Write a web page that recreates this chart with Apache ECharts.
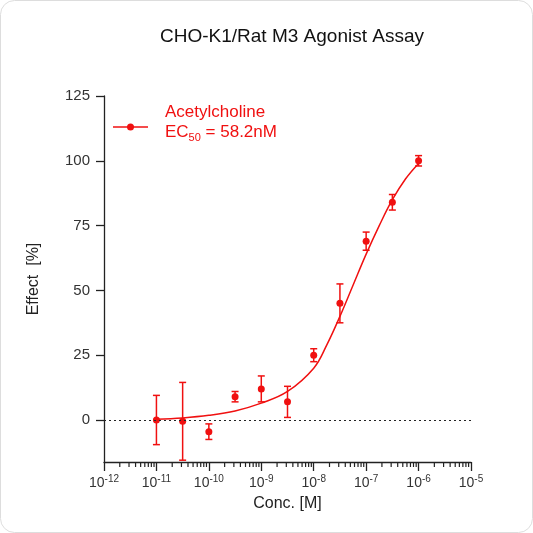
<!DOCTYPE html><html><head><meta charset="utf-8">
<script src="https://cdn.jsdelivr.net/npm/echarts@6/dist/echarts.min.js"></script>
<style>html,body{margin:0;background:#fff}#c{width:533px;height:533px}</style></head><body><div id="c"></div>
<script>
const logConc=[-11,-10.5,-10,-9.5,-9,-8.5,-8,-7.5,-7,-6.5,-6];
const effect=[0,-0.5,-4.5,9,12,7,25,45,69,84,100];
const errs=[9.5,15,3,2,5,6,2.5,7.5,3.5,3,2];
const curveX=[-11,-10.5,-10,-9.5,-9,-8.5,-8,-7.75,-7.5,-7.25,-7,-6.75,-6.5,-6.25,-6];
const curveY=[0.3,0.8,1.8,3.5,6.5,11,20,29,40,52,64,75,85,93,99];
const xTicks=[-12,-11,-10,-9,-8,-7,-6,-5];
const yTicks=[0,25,50,75,100,125];
const minorTicks=[];
for(let d=-12;d<-5;d++)for(let k=2;k<10;k++)minorTicks.push(d+Math.log10(k));
const red='#f01010';
const ch=echarts.init(document.getElementById('c'));
ch.setOption({
 animation:false,
 title:{text:'CHO-K1/Rat M3 Agonist Assay',left:287,top:22,textAlign:'center',textStyle:{fontSize:19,fontWeight:'normal',color:'#111',fontFamily:'Liberation Sans'}},
 grid:{left:104,right:62,top:96,bottom:71},
 xAxis:{type:'value',min:-12,max:-5,interval:1,name:'Conc. [M]',nameLocation:'middle',nameGap:30,
  nameTextStyle:{fontSize:16,color:'#222',fontFamily:'Liberation Sans'},
  axisLine:{onZero:false,lineStyle:{color:'#222',width:1.3}},axisTick:{length:9,lineStyle:{color:'#222',width:1.3}},
  splitLine:{show:false},
  axisLabel:{margin:12,formatter:v=>'{b|10}{s|'+v+'}',rich:{b:{fontSize:14,color:'#333',fontFamily:'Liberation Sans'},s:{fontSize:10,color:'#333',fontFamily:'Liberation Sans',padding:[0,0,9,0]}}}},
 yAxis:{type:'value',min:-16.2,max:125,name:'Effect  [%]',nameLocation:'middle',nameGap:62,
  nameTextStyle:{fontSize:16,color:'#222',fontFamily:'Liberation Sans'},
  axisLine:{show:true,onZero:false,lineStyle:{color:'#222',width:1.3}},
  axisTick:{show:true,length:8,customValues:yTicks,lineStyle:{color:'#222',width:1.3}},
  axisLabel:{customValues:yTicks,margin:14,fontSize:15,color:'#333',fontFamily:'Liberation Sans'},splitLine:{show:false}},
 series:[
  {type:'line',data:curveX.map((x,i)=>[x,curveY[i]]),smooth:0.4,showSymbol:false,lineStyle:{color:red,width:1.5},
   markLine:{silent:true,symbol:'none',label:{show:false},lineStyle:{color:'#222',type:[2,3],width:1},data:[{yAxis:0}]}},
  {type:'custom',data:logConc.map((x,i)=>[x,effect[i]-errs[i],effect[i]+errs[i]]),
   renderItem:(p,api)=>{const lo=api.coord([api.value(0),api.value(1)]),hi=api.coord([api.value(0),api.value(2)]);
    const s={stroke:red,lineWidth:1.5};
    return {type:'group',children:[
     {type:'line',shape:{x1:lo[0],y1:lo[1],x2:hi[0],y2:hi[1]},style:s},
     {type:'line',shape:{x1:lo[0]-3.5,y1:lo[1],x2:lo[0]+3.5,y2:lo[1]},style:s},
     {type:'line',shape:{x1:hi[0]-3.5,y1:hi[1],x2:hi[0]+3.5,y2:hi[1]},style:s}]};}},
  {type:'scatter',data:logConc.map((x,i)=>[x,effect[i]]),symbolSize:7,itemStyle:{color:red,opacity:1}},
  {type:'custom',data:minorTicks.map(v=>[v,-16.2]),clip:false,
   renderItem:(p,api)=>{const c=api.coord([api.value(0),api.value(1)]);
    return {type:'line',shape:{x1:c[0],y1:c[1],x2:c[0],y2:c[1]+5},style:{stroke:'#222',lineWidth:1.2}};}}
 ],
 graphic:[
  {type:'rect',shape:{x:0.5,y:0.5,width:532,height:532,r:14},style:{fill:'none',stroke:'#ddd',lineWidth:1},silent:true},
  {type:'line',shape:{x1:113,y1:127,x2:148,y2:127},style:{stroke:red,lineWidth:1.5}},
  {type:'circle',shape:{cx:130.5,cy:127,r:3.5},style:{fill:red}},
  {type:'text',left:165,top:104,style:{text:'Acetylcholine',fontSize:17,fill:red,fontFamily:'Liberation Sans'}},
  {type:'text',left:165,top:124,style:{text:'{a|EC}{b|50}{a| = 58.2nM}',fill:red,rich:{a:{fontSize:17,fontFamily:'Liberation Sans',fill:red},b:{fontSize:11,fontFamily:'Liberation Sans',fill:red,padding:[10,0,0,0]}}}}
 ]
});
</script></body></html>
